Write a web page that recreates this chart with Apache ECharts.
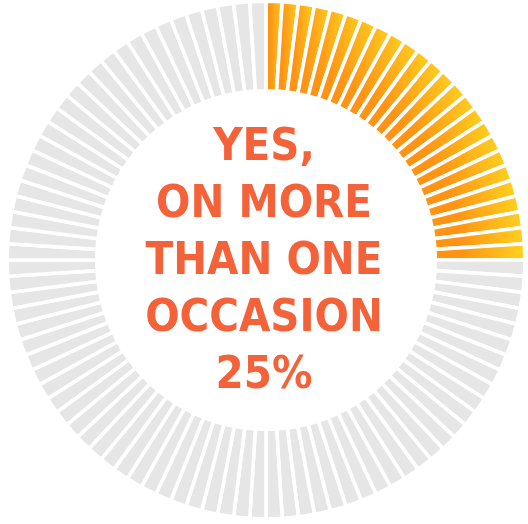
<!DOCTYPE html>
<html>
<head>
<meta charset="utf-8">
<style>
  html, body { margin: 0; padding: 0; background: #ffffff; }
  #chart { width: 528px; height: 524px; }
</style>
<script src="https://cdn.jsdelivr.net/npm/echarts@6/dist/echarts.min.js"></script>
</head>
<body>
<div id="chart"></div>
<script>
// Survey answer shown as a ring of 100 equal units, one per percent.
const answerLines = ["YES,", "ON MORE", "THAN ONE", "OCCASION"];
const answerShare = 25;      // percent of respondents
const unitCount = 100;       // one ring unit per percent

const ringGray = "#e6e6e6";
const warmStart = "#ff9414";
const warmEnd = "#ffd320";
const textColor = "#f4623a";

// Each unit is one slice; the first `answerShare` units get the warm fill.
const units = [];
for (let i = 0; i < unitCount; i++) {
  const filled = i < answerShare;
  units.push({
    value: 1,
    itemStyle: {
      color: filled
        ? new echarts.graphic.LinearGradient(0, 0, 1, 0, [
            { offset: 0, color: warmStart },
            { offset: 0.3, color: warmStart },
            { offset: 1, color: warmEnd }
          ])
        : ringGray
    }
  });
}

const chart = echarts.init(document.getElementById("chart"), null, { renderer: "canvas" });
const gap = 3.6;
chart.setOption({
  animation: false,
  backgroundColor: "#ffffff",
  series: [{
    type: "pie",
    silent: true,
    center: [266, 260],
    radius: [171 - gap / 2, 257 + gap / 2],
    startAngle: 90,
    clockwise: true,
    label: { show: false },
    labelLine: { show: false },
    emphasis: { disabled: true },
    itemStyle: { borderColor: "#ffffff", borderWidth: gap },
    data: units
  }],
  graphic: [{
    type: "text",
    x: 264,
    y: 120,
    style: {
      text: answerLines.concat([answerShare + "%"]).join("\n"),
      fill: textColor,
      fontFamily: "DejaVu Sans Condensed",
      fontWeight: "bold",
      fontSize: 45,
      lineHeight: 57,
      align: "center",
      verticalAlign: "top"
    }
  }]
});
</script>
</body>
</html>
